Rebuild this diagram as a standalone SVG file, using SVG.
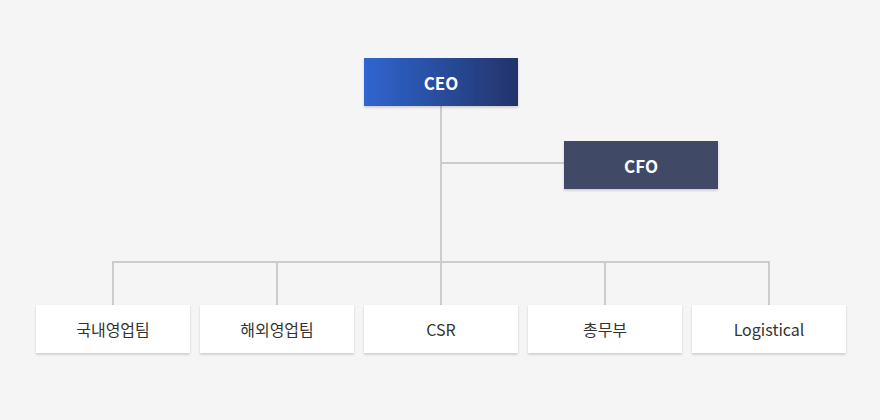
<svg xmlns="http://www.w3.org/2000/svg" width="880" height="420" viewBox="0 0 880 420">
<defs>
<linearGradient id="ceoGrad" x1="0" y1="0" x2="1" y2="0">
<stop offset="0" stop-color="#2f66d0"/>
<stop offset="1" stop-color="#23336a"/>
</linearGradient>
<filter id="sh" x="-10%" y="-10%" width="120%" height="130%">
<feDropShadow dx="0" dy="1.5" stdDeviation="1" flood-color="#000" flood-opacity="0.18"/>
</filter>
</defs>
<style>
.box{fill:#ffffff;filter:url(#sh)}
.lbl{font-family:"Noto Sans CJK KR","Noto Sans",sans-serif;font-size:16px;fill:#333333;text-anchor:middle;dominant-baseline:central}
.head{font-family:"Noto Sans CJK KR","Noto Sans",sans-serif;font-size:17px;font-weight:bold;fill:#ffffff;text-anchor:middle;dominant-baseline:central}
.ln{stroke:#cccccc;stroke-width:2;fill:none}
</style>
<rect width="880" height="420" fill="#f5f5f5"/>
<g id="connectors">
<path class="ln" d="M441 106 V305"/>
<path class="ln" d="M441 163 H564"/>
<path class="ln" d="M113 305 V262 H769 V305"/>
<path class="ln" d="M277 262 V305"/>
<path class="ln" d="M605 262 V305"/>
</g>
<g id="ceo">
<rect x="364" y="58" width="154" height="48" fill="url(#ceoGrad)" filter="url(#sh)"/>
<text class="head" x="441" y="82">CEO</text>
</g>
<g id="cfo">
<rect x="564" y="141" width="154" height="48" fill="#414a66" filter="url(#sh)"/>
<text class="head" x="641" y="165">CFO</text>
</g>
<g id="domestic">
<rect class="box" x="36" y="305" width="154" height="48"/>
<text class="lbl" x="113" y="329">국내영업팀</text>
</g>
<g id="overseas">
<rect class="box" x="200" y="305" width="154" height="48"/>
<text class="lbl" x="277" y="329">해외영업팀</text>
</g>
<g id="csr">
<rect class="box" x="364" y="305" width="154" height="48"/>
<text class="lbl" x="441" y="329">CSR</text>
</g>
<g id="general">
<rect class="box" x="528" y="305" width="154" height="48"/>
<text class="lbl" x="605" y="329">총무부</text>
</g>
<g id="logistical">
<rect class="box" x="692" y="305" width="154" height="48"/>
<text class="lbl" x="769" y="329">Logistical</text>
</g>
</svg>
